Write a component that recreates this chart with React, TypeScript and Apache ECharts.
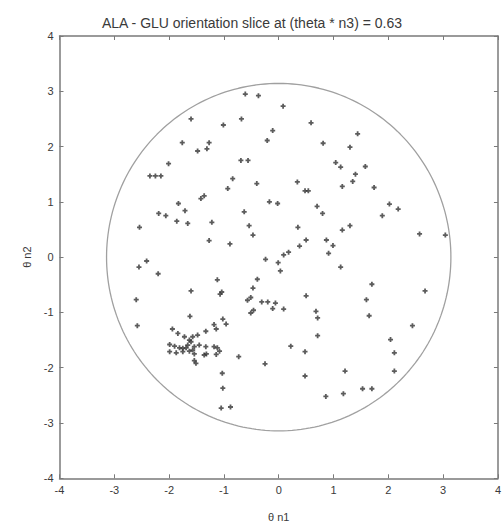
import React, { useEffect, useRef } from "react";
import * as echarts from "echarts";

const TITLE = "ALA - GLU orientation slice at (theta * n3) = 0.63";
const X_NAME = "θ n1";
const Y_NAME = "θ n2";
const AXIS_MIN = -4;
const AXIS_MAX = 4;
const AXIS_STEP = 1;
const BOUNDARY_RADIUS = Math.PI;

// [theta*n1, theta*n2] samples, grouped by region
const upperLeft = [[-0.61,2.95],[-0.37,2.92],[-1.60,2.50],[-0.68,2.50],[-1.01,2.39],[-0.11,2.29],[-0.21,2.11],[-1.76,2.07],[-1.27,2.07],[-1.31,1.96],[-1.48,1.92],[-0.69,1.75],[-0.56,1.75],[-2.01,1.69],[-2.35,1.47],[-2.25,1.47],[-2.15,1.47],[-0.84,1.42],[-0.93,1.24],[-0.40,1.33],[-1.36,1.11],[-1.42,1.06],[-1.83,0.97],[-2.19,0.79],[-2.06,0.75],[-1.71,0.84],[-1.86,0.65],[-1.66,0.61],[-2.54,0.54],[-1.22,0.63],[-0.63,0.82],[-0.54,0.57],[-0.47,0.40],[-0.17,1.00],[-0.02,0.97],[-1.27,0.30],[-0.89,0.24]];
const upperRight = [[0.08,2.73],[0.59,2.43],[1.44,2.23],[0.81,2.06],[1.30,1.99],[1.04,1.71],[1.13,1.63],[1.58,1.64],[1.40,1.50],[1.35,1.37],[1.16,1.28],[1.74,1.26],[0.34,1.36],[0.48,1.20],[0.54,1.20],[0.70,0.92],[0.80,0.79],[2.02,0.96],[2.18,0.87],[1.89,0.75],[0.35,0.54],[1.30,0.57],[1.16,0.49],[2.57,0.42],[3.04,0.40],[0.50,0.31],[0.38,0.20],[0.87,0.31],[0.99,0.21],[0.18,0.09],[0.09,0.04],[0.91,0.07]];
const lowerRight = [[-0.01,-0.10],[0.03,-0.25],[1.13,-0.18],[1.70,-0.49],[2.67,-0.61],[0.50,-0.70],[1.60,-0.77],[-0.06,-0.83],[-0.11,-0.93],[0.09,-0.94],[0.68,-0.98],[0.71,-1.10],[1.65,-1.06],[2.44,-1.24],[0.71,-1.42],[2.04,-1.49],[0.22,-1.61],[0.48,-1.71],[2.11,-1.73],[1.21,-2.06],[2.11,-2.06],[0.48,-2.15],[1.53,-2.38],[1.70,-2.38],[1.18,-2.47],[0.86,-2.52]];
const lowerLeft = [[-0.24,-0.04],[-2.41,-0.07],[-2.55,-0.18],[-2.20,-0.30],[-1.12,-0.41],[-0.39,-0.40],[-1.60,-0.61],[-1.04,-0.63],[-1.07,-0.67],[-0.47,-0.56],[-2.60,-0.77],[-0.57,-0.78],[-0.51,-0.73],[-0.31,-0.81],[-0.20,-0.81],[-0.51,-1.01],[-0.46,-0.96],[-1.62,-1.07],[-2.58,-1.24],[-1.02,-1.12],[-0.96,-1.21],[-1.18,-1.22],[-1.14,-1.30],[-0.73,-1.80],[-0.25,-1.93],[-1.03,-2.10],[-1.02,-2.37],[-1.05,-2.73],[-0.88,-2.71]];
const cluster = [[-1.94,-1.30],[-1.84,-1.38],[-1.72,-1.44],[-1.63,-1.50],[-1.57,-1.44],[-1.48,-1.41],[-1.33,-1.34],[-1.99,-1.58],[-1.90,-1.61],[-1.81,-1.64],[-1.75,-1.65],[-1.69,-1.64],[-1.66,-1.59],[-1.60,-1.53],[-1.57,-1.68],[-1.54,-1.62],[-1.45,-1.59],[-1.33,-1.62],[-1.18,-1.62],[-1.12,-1.64],[-1.99,-1.71],[-1.87,-1.73],[-1.75,-1.71],[-1.63,-1.70],[-1.54,-1.75],[-1.36,-1.77],[-1.32,-1.75],[-1.14,-1.76],[-1.08,-1.70],[-1.54,-1.87],[-1.51,-1.92]];

const FONT = "Liberation Sans, Arial, sans-serif";
const TEXT_COLOR = "#3a3a3a";
const FRAME_COLOR = "#7a7a7a";
const PLUS = "path://M0 1.6H5V3.4H0Z M1.6 0H3.4V5H1.6Z";

export default function App() {
  const ref = useRef<HTMLDivElement>(null);
  useEffect(() => {
    if (!ref.current) return;
    const chart = echarts.init(ref.current, undefined, { renderer: "svg" });
    const circle: number[][] = [];
    for (let i = 0; i <= 240; i++) {
      const a = (i / 240) * Math.PI * 2;
      circle.push([BOUNDARY_RADIUS * Math.cos(a), BOUNDARY_RADIUS * Math.sin(a)]);
    }
    const points = [...upperLeft, ...upperRight, ...lowerRight, ...lowerLeft, ...cluster];
    const axisCommon = {
      min: AXIS_MIN,
      max: AXIS_MAX,
      interval: AXIS_STEP,
      splitLine: { show: false },
      axisLine: { show: true, onZero: false, lineStyle: { color: FRAME_COLOR, width: 1.5 } },
      axisTick: { show: true, inside: true, length: 4, lineStyle: { color: FRAME_COLOR, width: 1 } },
    };
    chart.setOption({
      animation: false,
      backgroundColor: "#ffffff",
      title: {
        text: TITLE,
        left: "center",
        top: 11,
        textStyle: { fontFamily: FONT, fontSize: 14, fontWeight: "normal", color: TEXT_COLOR },
      },
      grid: { left: 59.5, right: 3.5, top: 36, bottom: 50.7, containLabel: false },
      xAxis: [
        {
          ...axisCommon,
          type: "value",
          position: "bottom",
          name: X_NAME,
          nameLocation: "middle",
          nameGap: 33,
          nameTextStyle: { fontFamily: FONT, fontSize: 11, color: TEXT_COLOR },
          axisLabel: { show: true, margin: 6, fontFamily: FONT, fontSize: 11, color: TEXT_COLOR },
        },
        {
          ...axisCommon,
          type: "value",
          position: "top",
          axisLabel: { show: false },
        },
      ],
      yAxis: [
        {
          ...axisCommon,
          type: "value",
          position: "left",
          name: Y_NAME,
          nameLocation: "middle",
          nameGap: 22,
          nameRotate: 90,
          nameTextStyle: { fontFamily: FONT, fontSize: 11, color: TEXT_COLOR },
          axisLabel: { show: true, margin: 6, fontFamily: FONT, fontSize: 11, color: TEXT_COLOR },
        },
        {
          ...axisCommon,
          type: "value",
          position: "right",
          axisLabel: { show: false },
        },
      ],
      series: [
        {
          type: "line",
          data: circle,
          showSymbol: false,
          symbol: "none",
          silent: true,
          lineStyle: { color: "#a0a0a0", width: 1.3 },
          xAxisIndex: 0,
          yAxisIndex: 0,
          z: 1,
        },
        {
          type: "scatter",
          data: points,
          symbol: PLUS,
          symbolSize: 5,
          itemStyle: { color: "#333333" },
          xAxisIndex: 0,
          yAxisIndex: 0,
          z: 2,
        },
      ],
    });
    return () => chart.dispose();
  }, []);
  return (
    <div
      ref={ref}
      style={{ position: "fixed", left: 0, top: 0, width: 504, height: 529, background: "#fff" }}
    />
  );
}
